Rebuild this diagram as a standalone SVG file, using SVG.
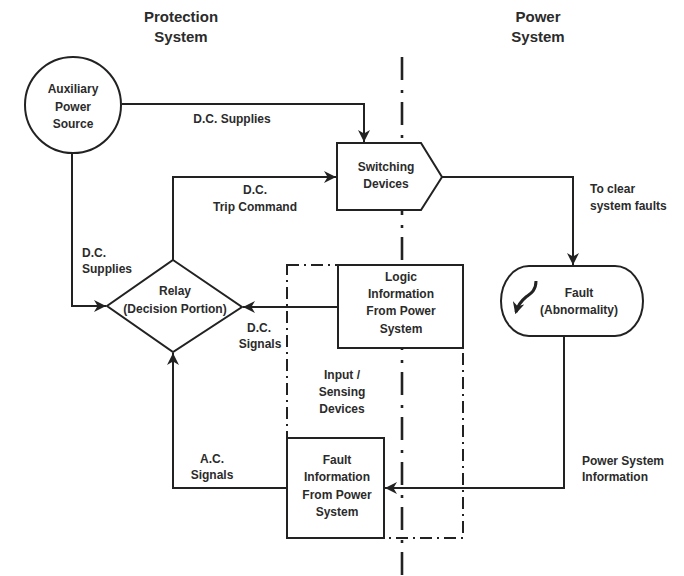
<svg xmlns="http://www.w3.org/2000/svg" width="684" height="576" viewBox="0 0 684 576">
<style>
text{font-family:"Liberation Sans",Arial,sans-serif;font-weight:bold;font-size:12px;fill:#2b2b2b;text-anchor:middle}
.title{font-size:15px}
.l{text-anchor:start}
.shape{fill:#fff;stroke:#222;stroke-width:2}
.conn{fill:none;stroke:#222;stroke-width:2}
.bolt{fill:none;stroke:#222;stroke-width:3}
.center{fill:none;stroke:#222;stroke-width:2.6;stroke-dasharray:23 10 3 9}
.box{fill:none;stroke:#222;stroke-width:2;stroke-dasharray:12 5 2 5}
</style>
<defs>
<marker id="arr" viewBox="0 0 10 10" refX="10" refY="5" markerWidth="6" markerHeight="6" orient="auto" markerUnits="strokeWidth">
<path d="M0,0 L10,5 L0,10 L3,5 Z" fill="#222"/>
</marker>
<marker id="arr2" viewBox="0 0 10 10" refX="8" refY="5" markerWidth="4" markerHeight="4" orient="auto" markerUnits="strokeWidth">
<path d="M0,0 L10,5 L0,10 L3,5 Z" fill="#222"/>
</marker>
</defs>
<rect width="684" height="576" fill="#fff"/>

<text class="title" x="181" y="22">Protection</text>
<text class="title" x="181" y="42">System</text>
<text class="title" x="538" y="22">Power</text>
<text class="title" x="538" y="42">System</text>

<line id="divider" class="center" x1="402" y1="57" x2="402" y2="576"/>
<g id="input-sensing">
<rect class="box" x="287" y="265" width="176" height="273"/>
<text x="342" y="379">Input /</text>
<text x="342" y="396">Sensing</text>
<text x="342" y="413">Devices</text>
</g>

<g id="connectors">
<polyline class="conn" points="122,104 364,104 364,142" marker-end="url(#arr)"/>
<polyline class="conn" points="173,260 173,177 336,177" marker-end="url(#arr)"/>
<polyline class="conn" points="72,153 72,306 106,306" marker-end="url(#arr)"/>
<polyline class="conn" points="338,307 243,307" marker-end="url(#arr)"/>
<polyline class="conn" points="442,177 573,177 573,265" marker-end="url(#arr)"/>
<polyline class="conn" points="564,336 564,488 385,488" marker-end="url(#arr)"/>
<polyline class="conn" points="287,488 173,488 173,353" marker-end="url(#arr)"/>
</g>

<g id="auxiliary">
<circle class="shape" cx="73" cy="105" r="48"/>
<text x="73" y="93">Auxiliary</text>
<text x="73" y="110.5">Power</text>
<text x="73" y="128">Source</text>
</g>

<g id="switching">
<polygon class="shape" points="337,143 421,143 442,177 421,210 337,210"/>
<text x="386" y="171">Switching</text>
<text x="386" y="188">Devices</text>
</g>

<g id="relay">
<polygon class="shape" points="173,260 242,307 173,352 107,306"/>
<text x="175" y="295">Relay</text>
<text x="175" y="313">(Decision Portion)</text>
</g>

<g id="logic">
<rect class="shape" x="338" y="265" width="125" height="83"/>
<text x="401" y="281">Logic</text>
<text x="401" y="298">Information</text>
<text x="401" y="315">From Power</text>
<text x="401" y="333">System</text>
</g>

<g id="fault">
<rect class="shape" x="501" y="266" width="142" height="70" rx="28" ry="35"/>
<path class="bolt" d="M536,281 C536,291 530,294 526,297 C521,301 518,305 516,312" marker-end="url(#arr2)"/>
<text x="579" y="297">Fault</text>
<text x="579" y="314">(Abnormality)</text>
</g>

<g id="fault-info">
<rect class="shape" x="287" y="438" width="97" height="100"/>
<text x="337" y="464">Fault</text>
<text x="337" y="481">Information</text>
<text x="337" y="499">From Power</text>
<text x="337" y="516">System</text>
</g>

<g id="labels">
<text x="232" y="123">D.C. Supplies</text>
<text x="255" y="194">D.C.</text>
<text x="255" y="211">Trip Command</text>
<text class="l" x="82" y="257">D.C.</text>
<text class="l" x="82" y="273">Supplies</text>
<text x="259" y="332">D.C.</text>
<text x="260" y="348">Signals</text>
<text class="l" x="590" y="193">To clear</text>
<text class="l" x="590" y="210">system faults</text>
<text x="212" y="463">A.C.</text>
<text x="212" y="479">Signals</text>
<text class="l" x="582" y="465">Power System</text>
<text class="l" x="582" y="481">Information</text>
</g>
</svg>
